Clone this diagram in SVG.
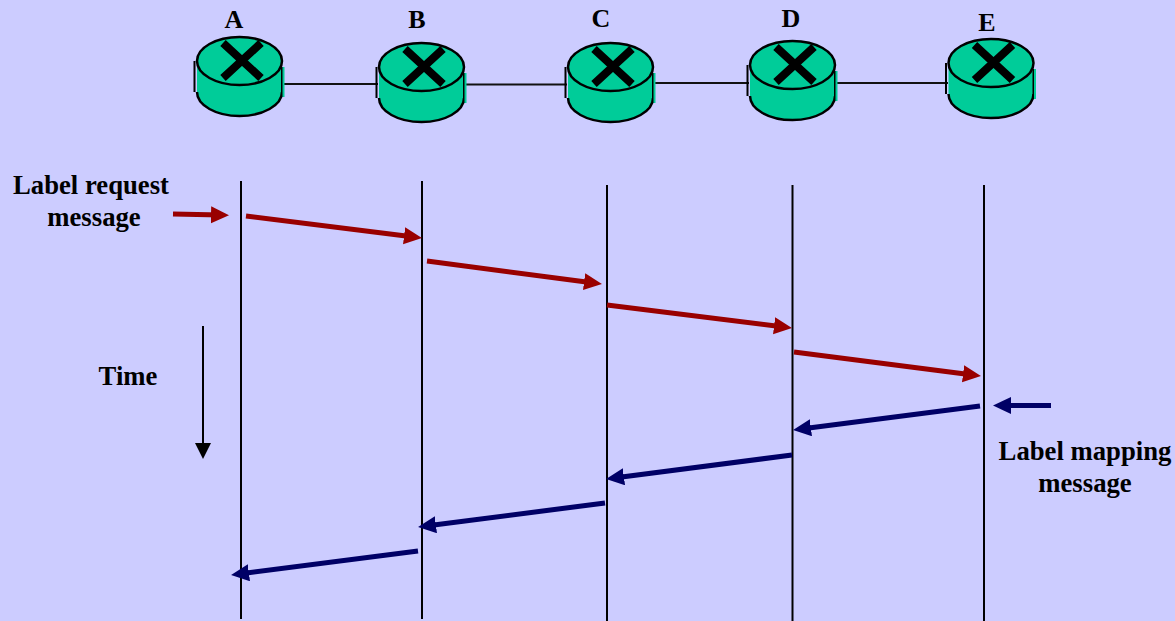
<svg xmlns="http://www.w3.org/2000/svg" width="1175" height="621" viewBox="0 0 1175 621">
<style>
text{font-family:"Liberation Serif",serif;font-weight:bold;fill:#000;text-anchor:middle}
.n{font-size:26px}.l{font-size:26.700px}
.link{stroke:#111;stroke-width:2;fill:none}
.life{stroke:#000;stroke-width:2;fill:none}
.red{stroke:#990000;stroke-width:5;fill:none;marker-end:url(#mr)}
.blue{stroke:#000066;stroke-width:5;fill:none;marker-end:url(#mb)}
</style>
<defs>
<marker id="mr" markerUnits="userSpaceOnUse" markerWidth="20" markerHeight="18" refX="10" refY="8.500" orient="auto"><path d="M0 0L18 8.500L0 17Z" fill="#990000"/></marker>
<marker id="mb" markerUnits="userSpaceOnUse" markerWidth="20" markerHeight="18" refX="10" refY="8.500" orient="auto"><path d="M0 0L18 8.500L0 17Z" fill="#000066"/></marker>
<marker id="mk" markerUnits="userSpaceOnUse" markerWidth="16" markerHeight="20" refX="8" refY="8" orient="auto"><path d="M0 0L16 8L0 16Z" fill="#000"/></marker>
<g id="router">
<path d="M-42.500 0V31A42.500 24 0 0 0 42.500 31V0Z" fill="#00cc99"/>
<path d="M-42.500 31A42.500 24 0 0 0 42.500 31" fill="none" stroke="#000" stroke-width="2.500"/>
<path d="M-45 0V31" stroke="#000" stroke-width="2" fill="none"/>
<path d="M42.500 6V36" stroke="#000" stroke-width="2" fill="none"/>
<path d="M44 6V36" stroke="#00cc99" stroke-width="2" fill="none"/>
<ellipse rx="42.500" ry="24" fill="#00cc99" stroke="#000" stroke-width="2.500"/>
<path d="M-16.500 -18L21.500 17M21.500 -18L-16.500 17" stroke="#000" stroke-width="8" fill="none"/>
</g>
</defs>
<rect width="1175" height="621" fill="#ccccff"/>
<g id="connectors">
<path class="link" d="M284 84H378"/>
<path class="link" d="M465 84.500H567"/>
<path class="link" d="M654 83H749"/>
<path class="link" d="M836 83H948"/>
<path class="life" d="M241 181V619"/>
<path class="life" d="M422 181V619"/>
<path class="life" d="M607 185V621"/>
<path class="life" d="M792.500 185V621"/>
<path class="life" d="M984 185V621"/>
<path class="red" d="M173 214L221 215"/>
<path class="red" d="M246 216L414 237"/>
<path class="red" d="M427 261L594 283"/>
<path class="red" d="M607 305L784 327"/>
<path class="red" d="M794 352L973 375"/>
<path class="blue" d="M1051 405.500H1001"/>
<path class="blue" d="M980 406L801 429"/>
<path class="blue" d="M792 455L614 478"/>
<path class="blue" d="M605 503L426 526"/>
<path class="blue" d="M418 551L239 574"/>
<path d="M203 326V451" stroke="#000" stroke-width="2" fill="none" marker-end="url(#mk)"/>
</g>
<g id="node-a"><use href="#router" x="239.500" y="61"/><text class="n" x="234" y="28">A</text></g>
<g id="node-b"><use href="#router" x="421.500" y="67"/><text class="n" x="417" y="28">B</text></g>
<g id="node-c"><use href="#router" x="610.500" y="67"/><text class="n" x="601" y="27">C</text></g>
<g id="node-d"><use href="#router" x="792.500" y="65"/><text class="n" x="791" y="27">D</text></g>
<g id="node-e"><use href="#router" x="991" y="63"/><text class="n" x="987" y="31">E</text></g>
<g id="label-request"><text class="l" x="91" y="194">Label request</text><text class="l" x="94" y="226">message</text></g>
<g id="label-time"><text class="l" x="128" y="385">Time</text></g>
<g id="label-mapping"><text class="l" x="1085" y="460">Label mapping</text><text class="l" x="1085" y="492">message</text></g>
</svg>
